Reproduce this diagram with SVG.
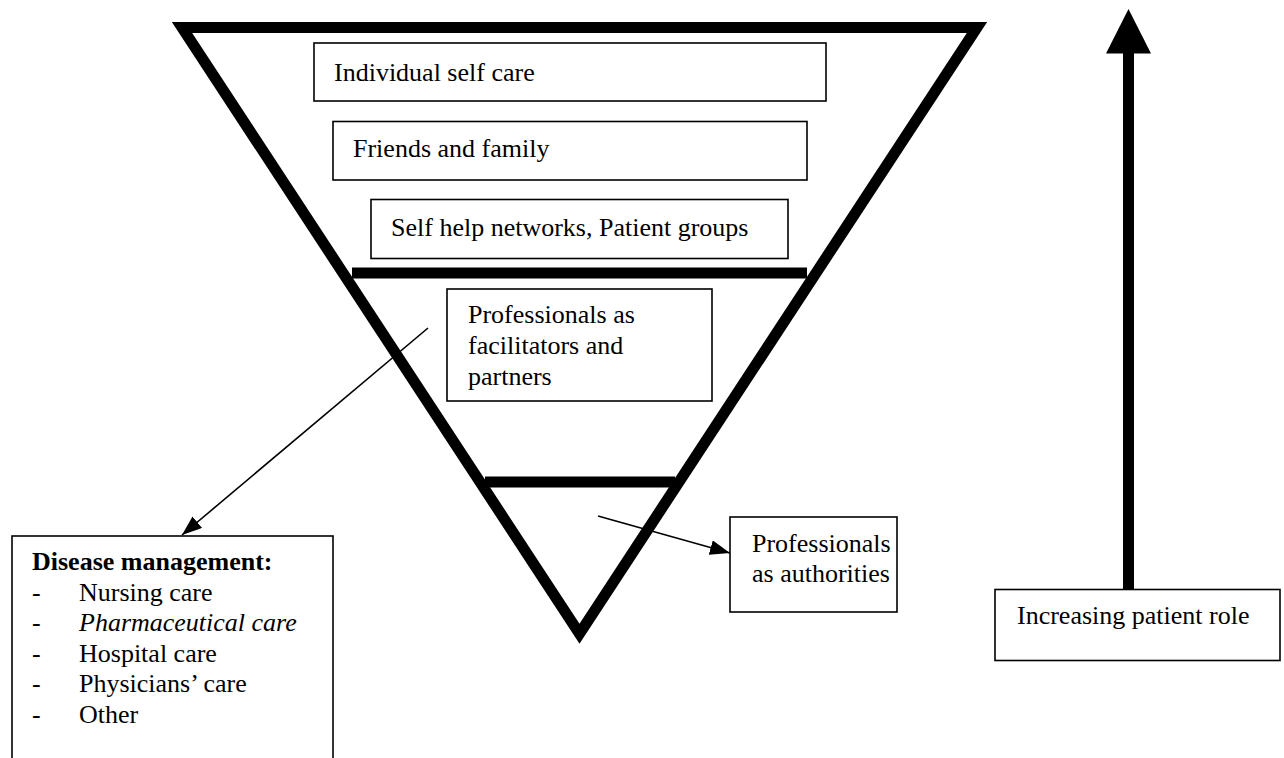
<svg xmlns="http://www.w3.org/2000/svg" width="1284" height="758" viewBox="0 0 1284 758">
<style>
.box{fill:#fff;stroke:#000;stroke-width:1.6}
.t{font-family:"Liberation Serif","Times New Roman",serif;font-size:26px;fill:#000}
.thick{stroke:#000;stroke-width:11;fill:none}
.conn{stroke:#000;stroke-width:1.6;fill:none}
</style>
<defs>
<marker id="ah" markerUnits="userSpaceOnUse" markerWidth="22" markerHeight="16" refX="20" refY="7.5" orient="auto">
<path d="M0,0 L20,7.5 L0,15 z" fill="#000"/>
</marker>
</defs>
<g id="pyramid">
<polygon class="thick" points="182,27.5 977,27.5 579.5,633.7" stroke-linejoin="miter" stroke-miterlimit="10"/>
<line class="thick" x1="352" y1="273" x2="807" y2="273"/>
<line class="thick" x1="485" y1="482" x2="675" y2="482"/>
</g>
<g id="individual">
<rect class="box" x="314" y="43" width="512" height="58"/>
<text class="t" x="334" y="81">Individual self care</text>
</g>
<g id="friends">
<rect class="box" x="333" y="121.5" width="474" height="58.5"/>
<text class="t" x="353" y="157">Friends and family</text>
</g>
<g id="selfhelp">
<rect class="box" x="371" y="199.5" width="417" height="59"/>
<text class="t" x="391" y="236">Self help networks, Patient groups</text>
</g>
<g id="facilitators">
<rect class="box" x="447" y="289" width="265" height="112"/>
<text class="t" x="468" y="323">Professionals as</text>
<text class="t" x="468" y="354">facilitators and</text>
<text class="t" x="468" y="385">partners</text>
</g>
<g id="authorities">
<rect class="box" x="730" y="517" width="167" height="95"/>
<text class="t" x="752" y="552">Professionals</text>
<text class="t" x="752" y="582">as authorities</text>
</g>
<g id="disease">
<rect class="box" x="12" y="536" width="321" height="240"/>
<text class="t" x="32" y="570" font-weight="bold">Disease management:</text>
<text class="t" x="32" y="600.5">-</text><text class="t" x="79" y="600.5">Nursing care</text>
<text class="t" x="32" y="631">-</text><text class="t" x="79" y="631" font-style="italic">Pharmaceutical care</text>
<text class="t" x="32" y="661.5">-</text><text class="t" x="79" y="661.5">Hospital care</text>
<text class="t" x="32" y="692">-</text><text class="t" x="79" y="692">Physicians’ care</text>
<text class="t" x="32" y="722.5">-</text><text class="t" x="79" y="722.5">Other</text>
</g>
<g id="patientrole">
<rect class="box" x="995" y="589.5" width="285" height="71"/>
<text class="t" x="1017" y="623.5">Increasing patient role</text>
</g>
<g id="connectors">
<line class="conn" x1="428" y1="328" x2="182" y2="535" marker-end="url(#ah)"/>
<line class="conn" x1="598" y1="516" x2="730" y2="553" marker-end="url(#ah)"/>
<rect x="1123" y="52" width="11" height="537.5" fill="#000"/>
<polygon points="1128.5,9 1106,53.5 1151,53.5" fill="#000"/>
</g>
</svg>
